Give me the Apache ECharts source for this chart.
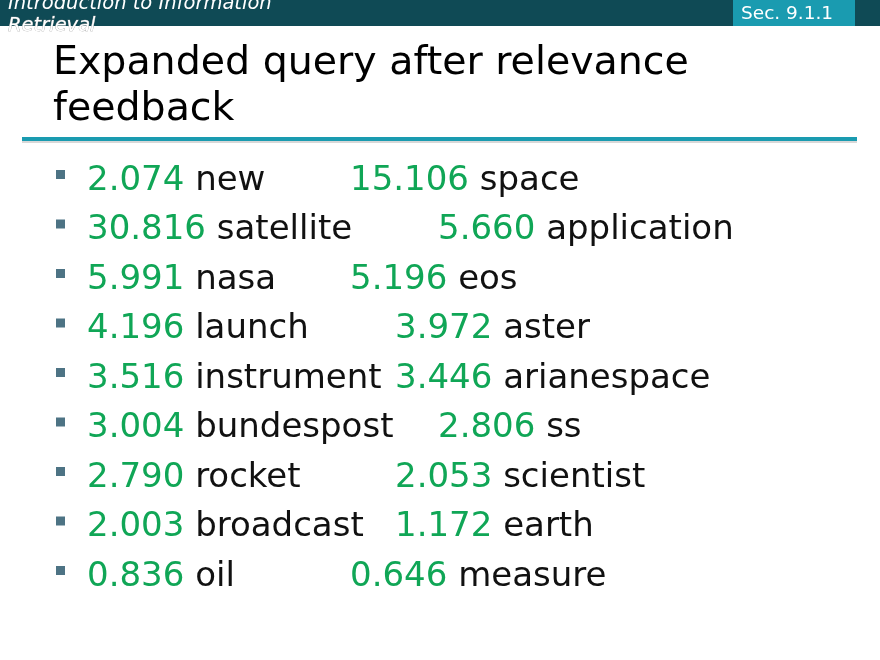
<!DOCTYPE html>
<html>
<head>
<meta charset="utf-8">
<script src="https://cdn.jsdelivr.net/npm/echarts@6/dist/echarts.min.js"></script>
<style>html,body{margin:0;padding:0;background:#fff}#chart{width:880px;height:660px}</style>
</head>
<body>
<div id="chart"></div>
<script>
// term weights after relevance feedback (left and right columns)
const leftWeights = ['2.074', '30.816', '5.991', '4.196', '3.516', '3.004', '2.790', '2.003', '0.836'];
const leftTerms = ['new', 'satellite', 'nasa', 'launch', 'instrument', 'bundespost', 'rocket', 'broadcast', 'oil'];
const rightWeights = ['15.106', '5.660', '5.196', '3.972', '3.446', '2.806', '2.053', '1.172', '0.646'];
const rightTerms = ['space', 'application', 'eos', 'aster', 'arianespace', 'ss', 'scientist', 'earth', 'measure'];
// tab stops of the right column on the slide
const rightX = [350, 438, 350, 395, 395, 438, 395, 395, 350];

const font = 'DejaVu Sans';
const rich = {
  g: { fill: '#10a656', fontSize: 34, fontFamily: font },
  b: { fill: '#111', fontSize: 34, fontFamily: font }
};

const graphic = [
  { type: 'rect', shape: { x: 0, y: 0, width: 880, height: 26 }, style: { fill: '#0f4a55' } },
  { type: 'rect', shape: { x: 733, y: 0, width: 122, height: 26 }, style: { fill: '#1a9bb0' } },
  { type: 'text', x: 741, y: 14, style: { text: 'Sec. 9.1.1', fill: '#fff', fontSize: 18.5, fontFamily: font, verticalAlign: 'middle' } },
  { type: 'text', x: 8, y: 4, style: { text: 'Introduction to Information', fill: '#fff', fontSize: 19.5, fontStyle: 'italic', fontFamily: font, verticalAlign: 'middle' } },
  { type: 'text', x: 8, y: 26, style: { text: 'Retrieval', fill: '#fff', stroke: '#999', lineWidth: 0.6, fontSize: 19.5, fontStyle: 'italic', fontFamily: font, verticalAlign: 'middle' } },
  { type: 'text', x: 53, y: 64, style: { text: 'Expanded query after relevance', fill: '#000', fontSize: 39.5, fontFamily: font, verticalAlign: 'middle' } },
  { type: 'text', x: 53, y: 110, style: { text: 'feedback', fill: '#000', fontSize: 39.5, fontFamily: font, verticalAlign: 'middle' } },
  { type: 'rect', shape: { x: 22, y: 140, width: 835, height: 3 }, style: { fill: '#d8d8d8' } },
  { type: 'rect', shape: { x: 22, y: 137, width: 835, height: 4 }, style: { fill: '#1a9bb0' } }
];

leftWeights.forEach(function (w, i) {
  const y = 181 + i * 49.5;
  graphic.push({ type: 'rect', shape: { x: 56, y: y - 11, width: 9, height: 9 }, style: { fill: '#4d7384' } });
  graphic.push({ type: 'text', x: 87, y: y, style: { text: '{g|' + w + '}{b| ' + leftTerms[i] + '}', rich: rich, verticalAlign: 'middle' } });
  graphic.push({ type: 'text', x: rightX[i], y: y, style: { text: '{g|' + rightWeights[i] + '}{b| ' + rightTerms[i] + '}', rich: rich, verticalAlign: 'middle' } });
});

const chart = echarts.init(document.getElementById('chart'));
chart.setOption({ backgroundColor: '#fff', graphic: graphic });
</script>
</body>
</html>
